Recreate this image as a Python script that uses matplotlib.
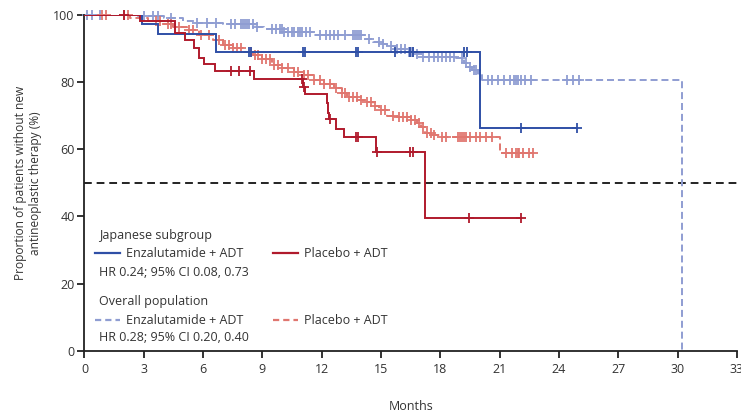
import numpy as np
import matplotlib
matplotlib.use("Agg")
import matplotlib.pyplot as plt

plt.rcParams['font.family'] = ['Open Sans', 'DejaVu Sans']

# ---------------- data (months, % without new antineoplastic therapy) -------------
# Japanese subgroup, enzalutamide + ADT
jp_enza_t = [0, 2.9, 3.7, 6.67, 20.0]
jp_enza_s = [100, 97.4, 94.4, 88.9, 66.4]
jp_enza_end = 24.9
jp_enza_cens = [8.3, 8.42, 11.05, 11.15, 13.75, 13.85, 15.7, 16.45, 16.6,
                19.2, 19.35, 22.1, 24.9]

# Japanese subgroup, placebo + ADT
jp_pbo_t = [0, 2.8, 4.57, 5.07, 5.55, 5.8, 6.05, 6.6, 8.55, 11.05, 11.15,
            12.26, 12.3, 12.35, 12.72, 13.13, 14.75, 17.23]
jp_pbo_s = [100, 98.1, 94.6, 92.6, 90.2, 87.2, 85.3, 83.2, 81.0, 78.7, 76.4,
            73.9, 70.9, 68.9, 66.1, 63.7, 59.3, 39.4]
jp_pbo_end = 22.1
jp_pbo_cens = [2.0, 7.42, 7.82, 8.35, 11.0, 11.1, 12.4, 13.75, 13.85, 14.8,
               16.45, 16.6, 19.45, 22.1]

# Overall population, enzalutamide + ADT
ov_enza_t = [0, 2.7, 4.0, 5.0, 5.6, 7.0, 8.6, 9.1, 10.1, 11.6, 14.2, 14.6,
             15.0, 15.3, 15.8, 16.3, 16.8, 17.1, 18.8, 19.2, 19.4, 19.6, 19.9,
             20.1, 30.2]
ov_enza_s = [100, 99.6, 99.0, 98.3, 97.6, 97.3, 96.5, 95.9, 94.9, 94.0, 93.0,
             92.0, 91.4, 90.8, 90.0, 89.1, 88.3, 87.6, 87.1, 85.6, 84.5, 83.6,
             82.0, 80.6, 0]
ov_enza_end = 30.2
ov_enza_cens = [0.15, 0.4, 0.8, 3.0, 3.45, 3.7, 4.4, 5.7, 6.2, 6.65, 7.4, 7.6,
                7.9, 8.0, 8.1, 8.2, 8.3, 8.5, 8.7, 9.5, 9.7, 9.9, 10.0, 10.1,
                10.3, 10.5, 10.6, 10.8, 10.9, 11.0, 11.2, 11.4, 11.9, 12.2,
                12.4, 12.6, 12.8, 13.2, 13.6, 13.7, 13.8, 13.9, 14.0, 14.4,
                14.9, 15.1, 15.5, 15.8, 16.0, 16.2, 16.4, 16.5, 16.6, 16.8,
                17.1, 17.4, 17.7, 17.9, 18.1, 18.3, 18.5, 18.7, 19.1, 19.3,
                19.5, 19.7, 19.8, 20.4, 20.6, 20.9, 21.2, 21.5, 21.7, 21.8,
                21.9, 22.1, 22.3, 22.6, 24.4, 24.7, 25.0]

# Overall population, placebo + ADT
ov_pbo_t = [0, 2.3, 3.2, 3.9, 4.5, 5.2, 5.8, 6.5, 7.0, 7.5, 8.0, 8.5, 9.0,
            9.5, 10.0, 10.6, 11.1, 11.6, 12.1, 12.6, 13.0, 13.3, 13.9, 14.3,
            14.6, 14.9, 15.3, 15.8, 16.5, 16.8, 17.0, 17.2, 17.6, 18.0, 21.0]
ov_pbo_s = [100, 99.1, 98.1, 97.3, 96.5, 95.5, 94.0, 92.6, 91.2, 90.1, 89.0,
            88.1, 86.8, 85.1, 84.2, 83.1, 82.0, 80.6, 79.3, 78.2, 76.8, 75.7,
            74.8, 74.2, 72.8, 71.7, 70.0, 69.5, 68.7, 67.8, 66.5, 65.0, 64.2,
            63.6, 58.8]
ov_pbo_end = 22.7
ov_pbo_cens = [0.9, 1.1, 2.0, 2.2, 3.6, 3.8, 4.2, 4.4, 4.8, 5.3, 5.5, 5.9,
               6.3, 6.8, 7.1, 7.3, 7.5, 7.7, 7.9, 8.4, 8.6, 8.8, 9.0, 9.2,
               9.4, 9.6, 9.8, 10.0, 10.3, 10.6, 10.8, 11.1, 11.3, 11.6, 11.9,
               12.1, 12.4, 12.7, 13.0, 13.2, 13.4, 13.6, 13.8, 14.0, 14.3,
               14.5, 14.7, 15.0, 15.2, 15.6, 15.9, 16.1, 16.3, 16.5, 16.7,
               16.9, 17.1, 17.3, 17.5, 17.7, 18.1, 18.3, 18.9, 19.0, 19.1,
               19.2, 19.3, 19.5, 19.8, 20.0, 20.3, 20.6, 21.3, 21.6, 21.8,
               21.9, 22.0, 22.2, 22.5, 22.7]

x_ticks = [0, 3, 6, 9, 12, 15, 18, 21, 24, 27, 30, 33]
y_ticks = [0, 20, 40, 60, 80, 100]
median_line = 50

# ---------------- styles ----------------
C_JP_ENZA = '#2f4fa6'
C_JP_PBO = '#b01a2c'
C_OV_ENZA = '#8f9dd2'
C_OV_PBO = '#e0766f'
TXT = '#333333'

fig = plt.figure(figsize=(7.41, 4.17), dpi=100)
ax = fig.add_axes([0.114, 0.159, 0.8806, 0.805])


def km(t, s, end, cens, color, dashed, z):
    t = np.asarray(t, float)
    s = np.asarray(s, float)
    tt = np.r_[t, end]
    ss = np.r_[s, s[-1]]
    kw = dict(color=color, lw=1.4, zorder=z, solid_joinstyle='miter')
    if dashed:
        ax.step(tt, ss, where='post', linestyle=(0, (3.6, 2.0)), **kw)
    else:
        ax.step(tt, ss, where='post', **kw)
    c = np.asarray(cens, float)
    idx = np.searchsorted(t, c, side='right') - 1
    ax.plot(c, s[idx], linestyle='none', marker='+', ms=6.5, mew=1.3,
            color=color, zorder=z + 0.1, clip_on=False)


ax.axhline(median_line, color='#222222', lw=1.4, linestyle=(0, (4, 2.5)),
           zorder=1)
km(ov_enza_t, ov_enza_s, ov_enza_end, ov_enza_cens, C_OV_ENZA, True, 2)
km(ov_pbo_t, ov_pbo_s, ov_pbo_end, ov_pbo_cens, C_OV_PBO, True, 2.5)
km(jp_enza_t, jp_enza_s, jp_enza_end, jp_enza_cens, C_JP_ENZA, False, 3)
km(jp_pbo_t, jp_pbo_s, jp_pbo_end, jp_pbo_cens, C_JP_PBO, False, 3.5)

ax.set_xlim(0, 33)
ax.set_ylim(0, 100)
ax.set_xticks(x_ticks)
ax.set_yticks(y_ticks)
for sp in ['top', 'right']:
    ax.spines[sp].set_visible(False)
for sp in ['left', 'bottom']:
    ax.spines[sp].set_color('#222222')
    ax.spines[sp].set_linewidth(1.3)
ax.tick_params(axis='both', colors='#222222', labelcolor=TXT, labelsize=9,
               length=5, width=1.3, direction='out')
ax.tick_params(axis='x', pad=4)
ax.tick_params(axis='y', pad=2)

ax.set_xlabel('Months', fontsize=9, color=TXT, labelpad=17)
ax.set_ylabel('Proportion of patients without new\nantineoplastic therapy (%)',
              fontsize=8.6, color=TXT, labelpad=8, linespacing=1.2)

# ---------------- legend (drawn as text) ----------------
fs = 9
ax.text(0.74, 34.3, 'Japanese subgroup', fontsize=fs, color=TXT, va='center')
ax.plot([0.53, 1.8], [29.0, 29.0], color=C_JP_ENZA, lw=1.6)
ax.text(2.09, 29.0, 'Enzalutamide + ADT', fontsize=fs, color=TXT, va='center')
ax.plot([9.51, 10.79], [29.0, 29.0], color=C_JP_PBO, lw=1.6)
ax.text(11.1, 29.0, 'Placebo + ADT', fontsize=fs, color=TXT, va='center')
ax.text(0.74, 23.4, 'HR 0.24; 95% CI 0.08, 0.73', fontsize=fs, color=TXT,
        va='center')

ax.text(0.74, 14.6, 'Overall population', fontsize=fs, color=TXT, va='center')
ax.plot([0.53, 1.8], [9.1, 9.1], color=C_OV_ENZA, lw=1.6,
        linestyle=(0, (2.8, 1.8)))
ax.text(2.09, 9.1, 'Enzalutamide + ADT', fontsize=fs, color=TXT, va='center')
ax.plot([9.51, 10.79], [9.1, 9.1], color=C_OV_PBO, lw=1.6,
        linestyle=(0, (2.8, 1.8)))
ax.text(11.1, 9.1, 'Placebo + ADT', fontsize=fs, color=TXT, va='center')
ax.text(0.74, 4.0, 'HR 0.28; 95% CI 0.20, 0.40', fontsize=fs, color=TXT,
        va='center')

fig.savefig('out.png', dpi=100)
